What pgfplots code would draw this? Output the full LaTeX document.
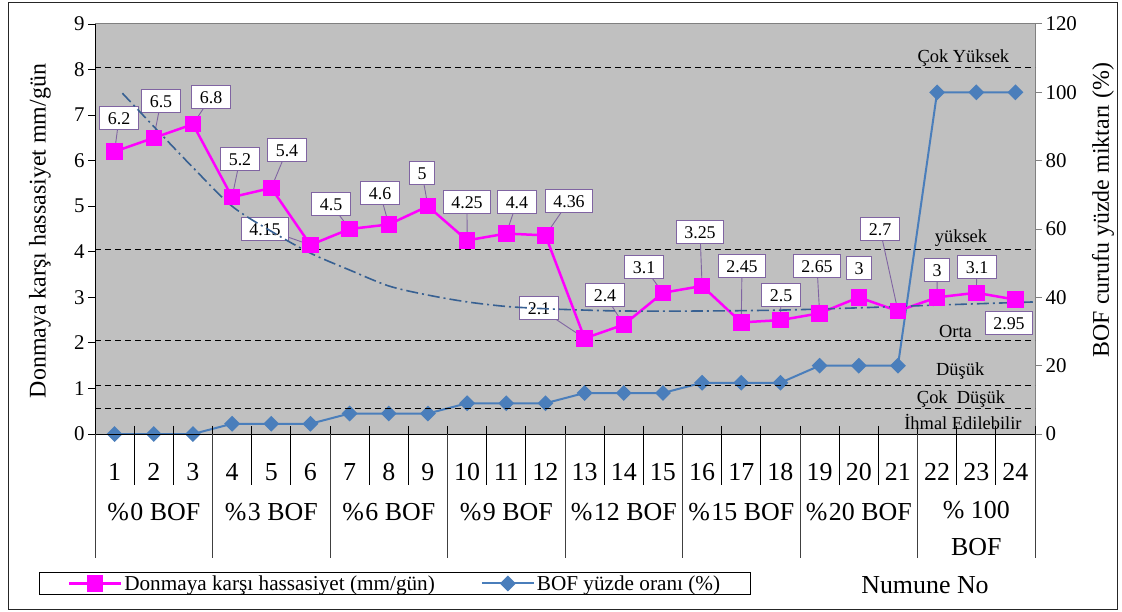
\documentclass[border=0pt]{standalone}
\usepackage{fontspec}
\setmainfont{Liberation Serif}
\usepackage{pgfplots}
\pgfplotsset{compat=1.18}
\definecolor{plotbg}{RGB}{192,192,192}
\definecolor{mag}{RGB}{255,0,255}
\definecolor{bofblue}{RGB}{74,126,187}
\definecolor{trendc}{RGB}{55,96,146}
\definecolor{lblborder}{RGB}{128,100,162}
\pgfplotsset{mylegimg/.style={legend image code/.code={\draw[mark repeat=2,mark phase=2,##1] plot coordinates {(0bp,0bp) (26bp,0bp) (52bp,0bp)};}}}
\tikzset{lblbox/.style={draw=lblborder, fill=white, line width=1bp, font=\fontsize{18}{18}\selectfont, inner xsep=8bp, inner ysep=5bp, text height=12.6bp, text depth=0bp}}
\newcommand{\lbl}[5]{\draw[lblborder, line width=0.9bp] (axis cs:#1,#2) -- (axis cs:#3,#4); \node[lblbox] at (axis cs:#3,#4) {#5};}
\begin{document}
\begin{tikzpicture}[x=1bp,y=1bp]
\useasboundingbox (0,0) rectangle (1122,-612);
\draw[line width=1bp, black!85] (8,-3) rectangle (1117,-609);
% right axis with BOF percentage
\begin{axis}[
  at={(95bp,-434bp)}, anchor=south west,
  scale only axis, width=940bp, height=410bp,
  xmin=0.5, xmax=24.5, ymin=0, ymax=120,
  axis x line=none, axis y line*=right,
  axis line style={draw=gray, line width=1bp, -},
  axis background/.style={fill=plotbg, draw=gray, line width=1bp},
  ytick={0,20,...,120},
  tick align=outside, major tick length=7bp,
  y tick style={draw=gray, line width=1bp},
  /pgf/number format/assume math mode=true,
  tick label style={font=\fontsize{21}{21}\selectfont},
  yticklabel style={anchor=west},
]
\addplot[bofblue, line width=2bp, mark=square*, mark size=4.6bp, mark options={rotate=45, fill=bofblue, draw=bofblue, solid}] coordinates {
(1,0)(2,0)(3,0)(4,3)(5,3)(6,3)(7,6)(8,6)(9,6)(10,9)(11,9)(12,9)(13,12)(14,12)(15,12)(16,15)(17,15)(18,15)(19,20)(20,20)(21,20)(22,100)(23,100)(24,100)};
\end{axis}
% left axis
\begin{axis}[
  at={(95bp,-434bp)}, anchor=south west,
  scale only axis, width=940bp, height=410bp,
  xmin=0.5, xmax=24.5, ymin=0, ymax=9,
  axis y line*=left, axis x line*=bottom,
  axis line style={draw=black, line width=1bp, -},
  clip=false,
  ytick={0,...,9},
  xtick={1,...,24},
  tick align=outside, major tick length=7bp,
  y tick style={draw=black, line width=1bp},
  x tick style={draw=none},
  /pgf/number format/assume math mode=true,
  tick label style={font=\fontsize{21}{21}\selectfont},
  xticklabel style={font=\fontsize{26}{26}\selectfont, anchor=center, yshift=-31bp},
  legend style={at={(axis description cs:0.3191,-0.3646)}, anchor=center, legend columns=2,
    draw=black, line width=1bp, fill=white, font=\fontsize{21.3}{21.3}\selectfont,
    inner ysep=1bp, inner xsep=28bp,
    /tikz/every even column/.append style={column sep=44bp}},
  legend cell align=left,
]
% reference level lines
\addplot[black, line width=1.3bp, dash pattern=on 6bp off 4bp, forget plot] coordinates {(0.5,8.05)(24.5,8.05)};
\addplot[black, line width=1.3bp, dash pattern=on 6bp off 4bp, forget plot] coordinates {(0.5,4.05)(24.5,4.05)};
\addplot[black, line width=1.3bp, dash pattern=on 6bp off 4bp, forget plot] coordinates {(0.5,2.05)(24.5,2.05)};
\addplot[black, line width=1.3bp, dash pattern=on 6bp off 4bp, forget plot] coordinates {(0.5,1.07)(24.5,1.07)};
\addplot[black, line width=1.3bp, dash pattern=on 6bp off 4bp, forget plot] coordinates {(0.5,0.56)(24.5,0.56)};
\begin{scope}[every node/.style={font=\fontsize{18.5}{18.5}\selectfont, inner sep=0pt}]
\node at (axis cs:22.67,8.25) {Çok Yüksek};
\node at (axis cs:22.61,4.30) {yüksek};
\node at (axis cs:22.47,2.24) {Orta};
\node at (axis cs:22.59,1.38) {Düşük};
\node at (axis cs:22.61,0.77) {Çok\hspace{0.5em}Düşük};
\node at (axis cs:22.66,0.26) {İhmal Edilebilir};
\end{scope}
\addplot[mag, line width=2.5bp, mark=square*, mark size=7bp, mark options={solid, fill=mag, draw=mag}, mylegimg] coordinates {
(1,6.2)(2,6.5)(3,6.8)(4,5.2)(5,5.4)(6,4.15)(7,4.5)(8,4.6)(9,5)(10,4.25)(11,4.4)(12,4.36)(13,2.1)(14,2.4)(15,3.1)(16,3.25)(17,2.45)(18,2.5)(19,2.65)(20,3)(21,2.7)(22,3)(23,3.1)(24,2.95)};
\addlegendentry{Donmaya karşı hassasiyet (mm/gün)}
\addlegendimage{bofblue, line width=2bp, mark=square*, mark size=4.6bp, mark options={rotate=45, fill=bofblue, draw=bofblue, solid}, mylegimg}
\addlegendentry{BOF yüzde oranı (\%)}
% data labels
\lbl{1}{6.2}{1.113}{6.937}{6.2}
\lbl{2}{6.5}{2.185}{7.310}{6.5}
\lbl{3}{6.8}{3.462}{7.397}{6.8}
\lbl{4}{5.2}{4.202}{6.036}{5.2}
\lbl{5}{5.4}{5.402}{6.234}{5.4}
\lbl{6}{4.15}{4.840}{4.500}{4.15}
\lbl{7}{4.5}{6.526}{5.049}{4.5}
\lbl{8}{4.6}{7.777}{5.290}{4.6}
\lbl{9}{5}{8.849}{5.729}{5}
\lbl{10}{4.25}{9.998}{5.093}{4.25}
\lbl{11}{4.4}{11.274}{5.093}{4.4}
\lbl{12}{4.36}{12.602}{5.115}{4.36}
\lbl{13}{2.1}{11.836}{2.766}{2.1}
\lbl{14}{2.4}{13.521}{3.051}{2.4}
\lbl{15}{3.1}{14.517}{3.666}{3.1}
\lbl{16}{3.25}{15.947}{4.434}{3.25}
\lbl{17}{2.45}{17.019}{3.688}{2.45}
\lbl{18}{2.5}{18.015}{3.051}{2.5}
\lbl{19}{2.65}{18.934}{3.688}{2.65}
\node[lblbox] at (axis cs:20.006,3.644) {3};
\lbl{21}{2.7}{20.543}{4.500}{2.7}
\lbl{22}{3}{21.998}{3.600}{3}
\lbl{23}{3.1}{23.019}{3.666}{3.1}
\node[lblbox] at (axis cs:23.836,2.437) {2.95};
% trend line
\addplot[trendc, line width=1.6bp, dash pattern=on 12bp off 4bp on 2bp off 4bp, smooth, forget plot] coordinates {
(1.2,7.48)(2,6.75)(3,5.85)(4,5.0)(5,4.45)(6,3.97)(7,3.6)(8,3.25)(9,3.05)(10,2.9)(11,2.8)(12,2.75)(13,2.72)(14,2.7)(16,2.7)(18,2.72)(20,2.77)(22,2.83)(24.5,2.9)};
% category table
\pgfplotsinvokeforeach{0.5,1.5,...,24.5}{\draw[black, line width=1bp] (axis cs:#1,0.18) -- (axis cs:#1,-1.12);}
\pgfplotsinvokeforeach{0.5,3.5,...,24.5}{\draw[black!75, line width=1bp] (axis cs:#1,0) -- (axis cs:#1,-2.72);}
\begin{scope}[every node/.style={font=\fontsize{26}{26}\selectfont}]
\node at (axis cs:2,-1.723) {\%\kern1.5pt0 BOF};
\node at (axis cs:5,-1.723) {\%\kern1.5pt3 BOF};
\node at (axis cs:8,-1.723) {\%\kern1.5pt6 BOF};
\node at (axis cs:11,-1.723) {\%\kern1.5pt9 BOF};
\node at (axis cs:14,-1.723) {\%\kern1.5pt12 BOF};
\node at (axis cs:17,-1.723) {\%\kern1.5pt15 BOF};
\node at (axis cs:20,-1.723) {\%\kern1.5pt20 BOF};
\node[align=center, font=\fontsize{26}{37}\selectfont] at (axis cs:23,-2.08) {\% 100\\BOF};
\end{scope}
\end{axis}
\node[font=\fontsize{26}{26}\selectfont] at (925,-585) {Numune No};
\node[rotate=90, font=\fontsize{24}{24}\selectfont] at (40,-231) {Donmaya karşı hassasiyet mm/gün};
\node[rotate=90, font=\fontsize{24}{24}\selectfont] at (1103,-210) {BOF curufu yüzde miktarı (\%)};
\end{tikzpicture}
\end{document}
